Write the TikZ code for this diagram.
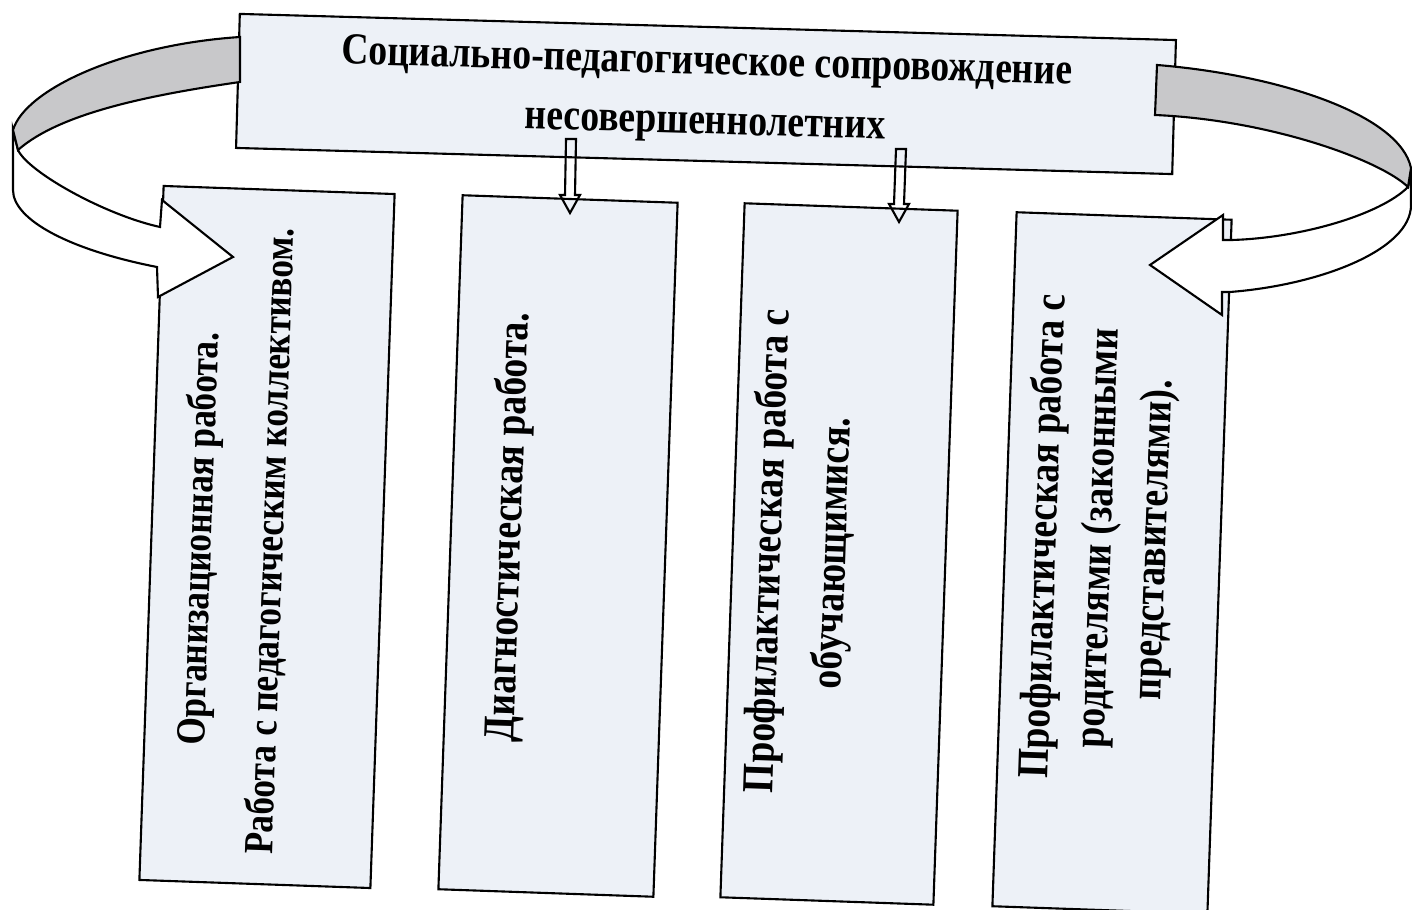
\documentclass[tikz,border=0pt]{standalone}
\usepackage{fontspec}
\setmainfont{Liberation Serif}[FakeStretch=0.85]
\usetikzlibrary{calc}
\definecolor{boxfill}{RGB}{237,241,247}
\definecolor{bandgray}{RGB}{200,200,202}
\tikzset{
    frame/.style={draw, line width=0.6pt, fill=boxfill, inner sep=0pt},
    topbox/.style={frame, minimum width=9.36cm, minimum height=1.34cm, rotate=-1.6,
        font=\bfseries\fontsize{12.6pt}{17pt}\selectfont, align=center},
    workbox/.style={frame, minimum width=#1, minimum height=6.94cm, rotate=-2},
    worktext/.style={font=\bfseries\fontsize{12.6pt}{#1}\selectfont, align=center, rotate=88},
    band/.style={draw, line width=0.6pt, line join=miter},
}
\newcommand\hollowdown[2]{%
  \draw[line width=0.6pt] ($(#1)+(-5,0)$) -- ($(#1)+(5,0)$) -- ($(#2)+(5,-18)$) -- ($(#2)+(10,-18)$)
    -- (#2) -- ($(#2)+(-10,-18)$) -- ($(#2)+(-5,-18)$) -- cycle;}

\begin{document}
\begin{tikzpicture}[x=0.01cm, y=-0.01cm]
\useasboundingbox (0,0) rectangle (1412,910);
\node[topbox] (main) at (706,94) {Социально-педагогическое сопровождение\\несовершеннолетних};
\node[workbox=2.31cm] (org) at (267,537) {};
\node[workbox=2.15cm] (diag) at (558,546) {};
\node[workbox=2.13cm] (prof) at (839,554) {};
\node[workbox=2.15cm] (par) at (1112,563) {};
\node[worktext=20.4pt, font=\bfseries\fontsize{11.8pt}{20.4pt}\selectfont] (orgtext) at (236,540)
    {Организационная работа.\\Работа с педагогическим коллективом.};
\node[worktext=15.6pt] (diagtext) at (510,527) {Диагностическая работа.};
\node[worktext=18.4pt] (proftext) at (802,552) {Профилактическая работа с\\обучающимися.};
\node[worktext=15.6pt] (partext) at (1100,538) {Профилактическая работа с\\родителями (законными\\представителями).};
\coordinate (d1) at (571,139);
\coordinate (d1tip) at (570,213);
\coordinate (d2) at (901,149);
\coordinate (d2tip) at (899,222);
\hollowdown{d1}{d1tip}
\hollowdown{d2}{d2tip}
\filldraw[band, fill=white] (18,150) .. controls (28,172) and (105,215) .. (160,227) -- (162,200) -- (233,257)
    -- (158,297) -- (157,267) .. controls (70,250) and (13,220) .. (13,190) -- (13,130) -- cycle;
\filldraw[band, fill=bandgray] (240,37) .. controls (120,45) and (25,90) .. (13,130) -- (18,150)
    .. controls (60,113) and (150,95) .. (240,82) -- cycle;
\filldraw[band, fill=white] (1232,240) -- (1223,240) -- (1223,215) -- (1150,265) -- (1222,315) -- (1222,292)
    -- (1230,292) .. controls (1320,285) and (1411,250) .. (1411,205) -- (1411,168) -- (1408,187)
    .. controls (1380,215) and (1300,238) .. (1232,240) -- cycle;
\filldraw[band, fill=bandgray] (1157,65) .. controls (1280,75) and (1400,115) .. (1411,168) -- (1408,187)
    .. controls (1380,160) and (1270,120) .. (1155,115) -- cycle;
\end{tikzpicture}
\end{document}
